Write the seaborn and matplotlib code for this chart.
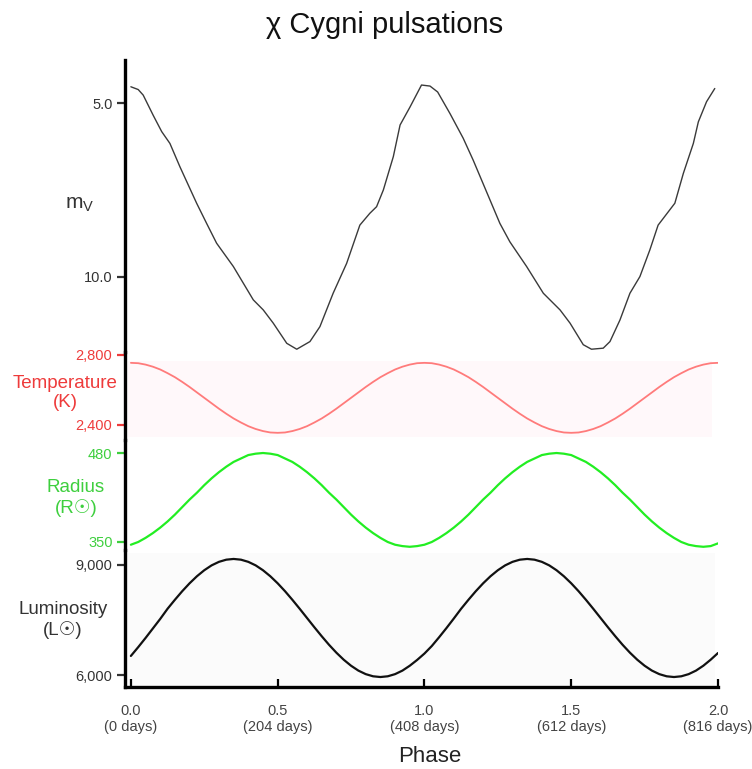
import matplotlib
matplotlib.use("Agg")
import matplotlib.pyplot as plt
import pandas as pd
import seaborn as sns

# ---- data ----
mag_phase = [0.0, 0.025, 0.042, 0.076, 0.105, 0.133, 0.167, 0.224, 0.258, 0.292,
             0.349, 0.383, 0.417, 0.451, 0.485, 0.531, 0.565, 0.610, 0.644, 0.689,
             0.735, 0.780, 0.814, 0.837, 0.860, 0.894, 0.917, 0.951, 0.990, 1.019,
             1.045, 1.087, 1.132, 1.166, 1.257, 1.291, 1.348, 1.405, 1.462, 1.496,
             1.541, 1.569, 1.609, 1.632, 1.666, 1.700, 1.734, 1.768, 1.796, 1.853,
             1.882, 1.916, 1.933, 1.961, 1.989]
mag_value = [4.53, 4.61, 4.77, 5.35, 5.82, 6.16, 6.83, 7.88, 8.46, 9.03,
             9.70, 10.18, 10.66, 10.95, 11.33, 11.91, 12.08, 11.86, 11.43, 10.47,
             9.61, 8.51, 8.17, 7.98, 7.50, 6.54, 5.63, 5.11, 4.48, 4.51,
             4.68, 5.30, 6.01, 6.64, 8.46, 8.99, 9.70, 10.47, 10.95, 11.33,
             11.95, 12.08, 12.05, 11.86, 11.24, 10.47, 9.99, 9.22, 8.51, 7.88,
             7.02, 6.16, 5.54, 4.96, 4.58]

# phase grid for the smooth curves, 0.025 steps from 0 to 2
phase = [round(i * 0.025, 3) for i in range(81)]
temperature = [2755, 2753, 2745, 2733, 2717, 2696, 2673, 2646, 2617, 2586,
               2555, 2524, 2493, 2464, 2437, 2414, 2393, 2377, 2365, 2357,
               2355, 2357, 2365, 2377, 2393, 2414, 2437, 2464, 2493, 2524,
               2555, 2586, 2617, 2646, 2673, 2696, 2717, 2733, 2745, 2753,
               2755, 2753, 2745, 2733, 2717, 2696, 2673, 2646, 2617, 2586,
               2555, 2524, 2493, 2464, 2437, 2414, 2393, 2377, 2365, 2357,
               2355, 2357, 2365, 2377, 2393, 2414, 2437, 2464, 2493, 2524,
               2555, 2586, 2617, 2646, 2673, 2696, 2717, 2733, 2745, 2753,
               2755]
radius = [346, 350, 356, 363, 371, 380, 390, 401, 412, 422,
          433, 443, 452, 460, 467, 472, 477, 479, 480, 479,
          477, 472, 467, 460, 452, 443, 433, 422, 412, 401,
          390, 380, 371, 363, 356, 350, 346, 344, 343, 344,
          346, 350, 356, 363, 371, 380, 390, 401, 412, 422,
          433, 443, 452, 460, 467, 472, 477, 479, 480, 479,
          477, 472, 467, 460, 452, 443, 433, 422, 412, 401,
          390, 380, 371, 363, 356, 350, 346, 344, 343, 344,
          348]
luminosity = [6520, 6760, 7010, 7270, 7530, 7807, 8052, 8286, 8501, 8693,
              8857, 8990, 9086, 9145, 9165, 9145, 9086, 8990, 8857, 8693,
              8501, 8286, 8052, 7807, 7555, 7303, 7058, 6824, 6609, 6417,
              6253, 6120, 6024, 5965, 5945, 5965, 6024, 6120, 6253, 6410,
              6585, 6790, 7030, 7280, 7540, 7807, 8052, 8286, 8501, 8693,
              8857, 8990, 9086, 9145, 9165, 9145, 9086, 8990, 8857, 8693,
              8501, 8286, 8052, 7807, 7555, 7303, 7058, 6824, 6609, 6417,
              6253, 6120, 6024, 5965, 5945, 5965, 6024, 6120, 6253, 6417,
              6600]

x_ticks = [0.0, 0.5, 1.0, 1.5, 2.0]
x_days = [0, 204, 408, 612, 816]
x_labels = ["%.1f\n(%d days)" % (p, d) for p, d in zip(x_ticks, x_days)]

mag_ticks, mag_labels = [5.0, 10.0], ["5.0", "10.0"]
temp_ticks, temp_labels = [2400, 2800], ["2,400", "2,800"]
rad_ticks, rad_labels = [350, 480], ["350", "480"]
lum_ticks, lum_labels = [6000, 9000], ["6,000", "9,000"]

mag_df = pd.DataFrame({"phase": mag_phase, "mag": mag_value})
star_df = pd.DataFrame({"phase": phase, "temp": temperature,
                        "radius": radius, "lum": luminosity})

# ---- style ----
sns.set_style("white")
plt.rcParams["font.family"] = ["Liberation Sans", "DejaVu Sans"]
plt.rcParams["mathtext.fontset"] = "custom"
plt.rcParams["mathtext.rm"] = "Liberation Sans"

RED = "#ee3b3b"
GREEN = "#3ecf3e"
GREY = "#333333"

W, H = 752, 769
fig = plt.figure(figsize=(W / 100, H / 100), dpi=100)


def add_panel(top, bottom, share=None):
    """ axes given by its pixel top/bottom, same x span for all """
    return fig.add_axes([125 / W, 1 - bottom / H, (718 - 125) / W, (bottom - top) / H],
                        sharex=share)


ax_l = add_panel(550, 687)
ax_mag = add_panel(60, 352, ax_l)
ax_t = add_panel(352, 440, ax_l)
ax_r = add_panel(440, 550, ax_l)

sns.lineplot(data=mag_df, x="phase", y="mag", ax=ax_mag, color="#3a3a3a",
             lw=1.0, estimator=None)
sns.lineplot(data=star_df, x="phase", y="temp", ax=ax_t, color="#ff7b7b",
             lw=1.3, estimator=None)
sns.lineplot(data=star_df, x="phase", y="radius", ax=ax_r, color="#22ee22",
             lw=1.6, estimator=None)
sns.lineplot(data=star_df, x="phase", y="lum", ax=ax_l, color="#111111",
             lw=1.6, estimator=None)

ax_mag.set_ylim(12.16, 3.76)
ax_t.set_ylim(2314, 2817)
ax_r.set_ylim(338.3, 499)
ax_l.set_ylim(5673, 9409)
ax_l.set_xlim(-0.02, 2.0)

# soft panel backgrounds
ax_t.axhspan(2331, 2766, xmin=0.005, xmax=0.99, color="#fff8fa", zorder=0, lw=0)
ax_l.axhspan(5673, 9327, xmin=0.0, xmax=0.995, color="#fbfbfb", zorder=0, lw=0)

panels = [
    (ax_mag, mag_ticks, mag_labels, GREY, "m$_{\\mathrm{V}}$", 15, (80, 205)),
    (ax_t, temp_ticks, temp_labels, RED, "Temperature\n(K)", 13.5, (65, 393)),
    (ax_r, rad_ticks, rad_labels, GREEN, "Radius\n(R☉)", 13.5, (76, 498)),
    (ax_l, lum_ticks, lum_labels, GREY, "Luminosity\n(L☉)", 13.5, (63, 620)),
]

for ax, ticks, labels, col, name, size, pos in panels:
    ax.set_facecolor("none")
    for side in ["top", "right", "bottom"]:
        ax.spines[side].set_visible(False)
    ax.spines["left"].set_linewidth(2.4)
    ax.spines["left"].set_color("black")
    ax.set_yticks(ticks, labels)
    ax.tick_params(axis="y", direction="out", length=6, width=1.6, color=col,
                   labelcolor=col, labelsize=10.5, pad=3, left=True)
    ax.set_ylabel(name, rotation=0, ha="center", va="center",
                  multialignment="center", color=col, fontsize=size)
    ax.yaxis.set_label_coords(pos[0] / W, 1 - pos[1] / H, transform=fig.transFigure)
    if ax is not ax_l:
        ax.tick_params(axis="x", bottom=False, labelbottom=False)
        ax.set_xlabel("")

ax_l.spines["bottom"].set_visible(True)
ax_l.spines["bottom"].set_linewidth(2.4)
ax_l.spines["bottom"].set_color("black")
ax_l.set_xticks(x_ticks, x_labels)
ax_l.tick_params(axis="x", direction="in", length=6, width=1.6, color="black",
                 labelcolor="#444444", labelsize=10.5, pad=12, bottom=True)
ax_l.set_xlabel("Phase", fontsize=16, color="#222222", va="center")
ax_l.xaxis.set_label_coords(430 / W, 1 - 756 / H, transform=fig.transFigure)

fig.text(385 / W, 1 - 25 / H, "χ Cygni pulsations", ha="center", va="center",
         fontsize=21, color="#111111")

fig.savefig("out.png", dpi=100)
